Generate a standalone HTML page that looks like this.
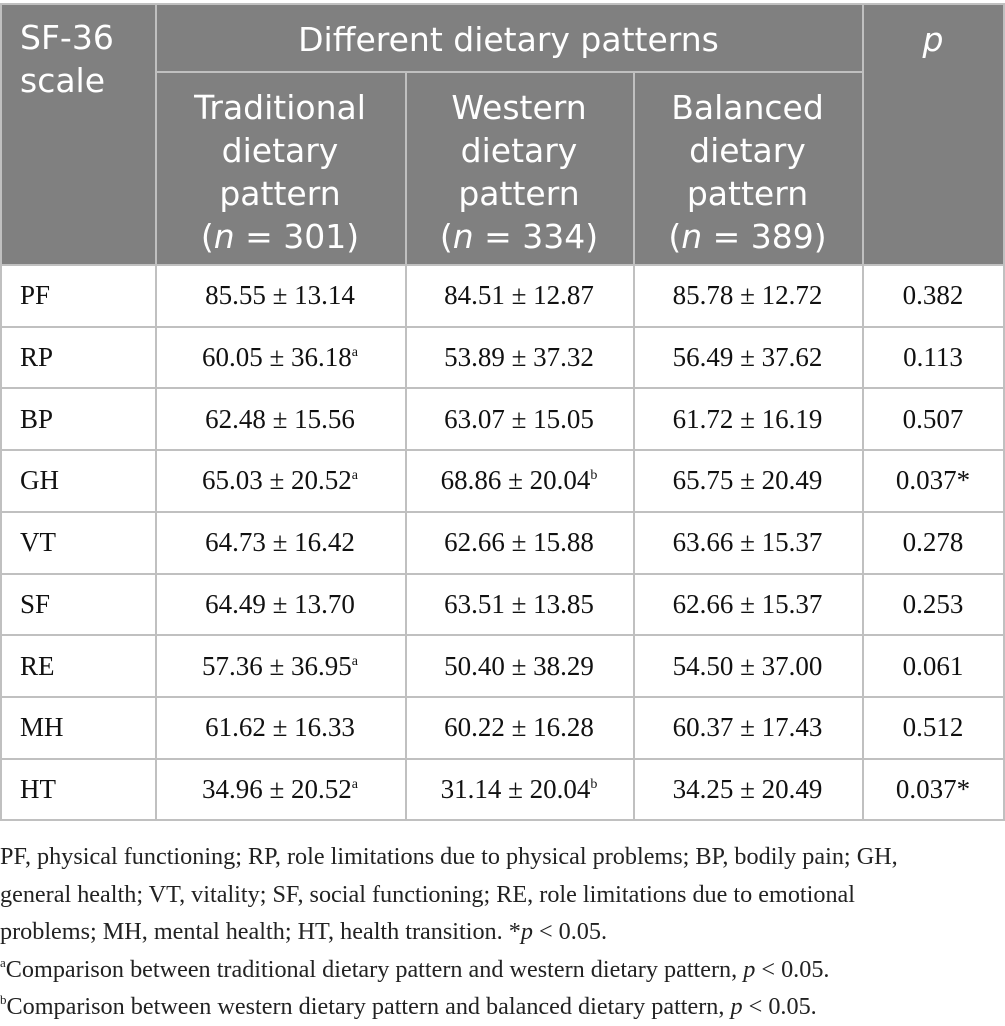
<!DOCTYPE html>
<html><head><meta charset="utf-8"><style>
body{margin:0;width:1005px;height:1022px;background:#fff;position:relative;overflow:hidden}
.h{position:absolute;background:#808080;color:#fff;font-family:"DejaVu Sans","Liberation Sans",sans-serif;font-size:33px;line-height:43px;text-align:center}
.c{position:absolute;font-family:"Liberation Serif",serif;font-size:27px;color:#111;display:flex;align-items:center;justify-content:center}
.l{justify-content:flex-start;padding-left:20px}
.ln{position:absolute;background:#c0c0c0}
sup{font-size:14px;position:relative;top:-10px;vertical-align:baseline;line-height:0}
.fn{position:absolute;left:0;font-family:"Liberation Serif",serif;font-size:24.2px;color:#222;line-height:37.5px;top:838px;width:1005px;white-space:nowrap}
</style></head><body>
<div class="h" style="left:0;top:4px;width:1004px;height:261px"></div>
<div class="h" style="left:20px;top:16px;text-align:left;background:none">SF-36<br>scale</div>
<div class="h" style="left:155px;top:18px;width:707px;background:none">Different dietary patterns</div>
<div class="h" style="left:862px;top:18px;width:142px;background:none;font-style:italic">p</div>
<div class="h" style="left:155px;top:86px;width:250px;background:none">Traditional<br>dietary<br>pattern<br>(<i>n</i> = 301)</div>
<div class="h" style="left:405px;top:86px;width:228px;background:none">Western<br>dietary<br>pattern<br>(<i>n</i> = 334)</div>
<div class="h" style="left:633px;top:86px;width:229px;background:none">Balanced<br>dietary<br>pattern<br>(<i>n</i> = 389)</div>
<div id="grid"></div>
<div class="fn">PF, physical functioning; RP, role limitations due to physical problems; BP, bodily pain; GH,<br>general health; VT, vitality; SF, social functioning; RE, role limitations due to emotional<br>problems; MH, mental health; HT, health transition. *<i>p</i> &lt; 0.05.<br><sup style="font-size:13px">a</sup>Comparison between traditional dietary pattern and western dietary pattern, <i>p</i> &lt; 0.05.<br><sup style="font-size:13px">b</sup>Comparison between western dietary pattern and balanced dietary pattern, <i>p</i> &lt; 0.05.</div>
<script>
const scales=["PF","RP","BP","GH","VT","SF","RE","MH","HT"];
const traditional=["85.55 ± 13.14","60.05 ± 36.18<sup>a</sup>","62.48 ± 15.56","65.03 ± 20.52<sup>a</sup>","64.73 ± 16.42","64.49 ± 13.70","57.36 ± 36.95<sup>a</sup>","61.62 ± 16.33","34.96 ± 20.52<sup>a</sup>"];
const western=["84.51 ± 12.87","53.89 ± 37.32","63.07 ± 15.05","68.86 ± 20.04<sup>b</sup>","62.66 ± 15.88","63.51 ± 13.85","50.40 ± 38.29","60.22 ± 16.28","31.14 ± 20.04<sup>b</sup>"];
const balanced=["85.78 ± 12.72","56.49 ± 37.62","61.72 ± 16.19","65.75 ± 20.49","63.66 ± 15.37","62.66 ± 15.37","54.50 ± 37.00","60.37 ± 17.43","34.25 ± 20.49"];
const pvals=["0.382","0.113","0.507","0.037*","0.278","0.253","0.061","0.512","0.037*"];
const g=document.getElementById('grid');
const xs=[0,155,405,633,862,1004];
const top0=265,rh=61.7;
function add(html,cls,x,y,w,h,name){const d=document.createElement('div');d.className=cls;d.style.left=x+'px';d.style.top=y+'px';d.style.width=w+'px';d.style.height=h+'px';d.innerHTML=html;


g.appendChild(d);}
const cols=[scales,traditional,western,balanced,pvals];
for(let r=0;r<scales.length;r++){
 const y=top0+r*rh;
 for(let c=0;c<5;c++){
  add('<span>'+cols[c][r]+'</span>',c==0?'c l':'c',xs[c],y,xs[c+1]-xs[c]-(c==0?20:0),rh,'cell-'+scales[r].toLowerCase()+'-'+c);
 }
 add('','ln',0,Math.round(y+rh)-1,1005,2,'row-line');
}
add('','ln',0,264,1005,2,'header-line');
add('','ln',0,3,1005,2,'top-line');
add('','ln',155,71,707,2,'subheader-line');
const bot=Math.round(top0+scales.length*rh)+1;
[0,155,405,633,862,1003].forEach((x,i)=>{const y0=(i==2||i==3)?72:4;add('','ln',x,y0,2,bot-y0,'col-line');});
</script>
</body></html>
